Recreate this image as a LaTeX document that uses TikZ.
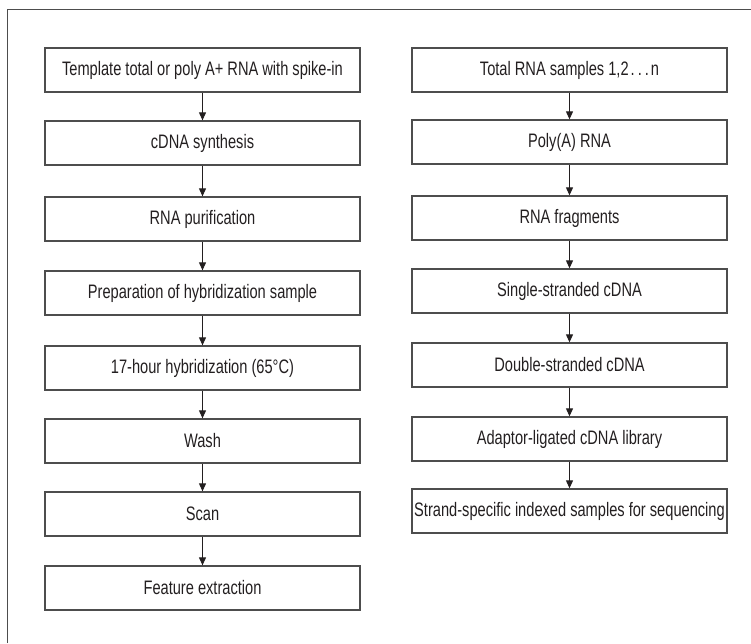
\documentclass[tikz,border=0pt]{standalone}
\usepackage{fontspec}
\setmainfont{Liberation Sans}[FakeStretch=0.75]
\usetikzlibrary{arrows.meta}
\definecolor{linegray}{HTML}{4D4D4D}
\definecolor{textgray}{HTML}{231F20}
\tikzset{
  flowbox/.style={draw=linegray, line width=1.3pt, minimum width=315pt, minimum height=44pt,
    inner sep=0pt, text=textgray, font=\fontsize{19.5}{21}\selectfont},
  flowarrow/.style={textgray, line width=1pt, -{Triangle[length=8pt,width=7pt]}}
}
\begin{document}
\begin{tikzpicture}[x=1pt,y=-1pt]
    \useasboundingbox (0,0) rectangle (751,643);
    \draw[linegray, line width=1pt] (7,643) -- (7,9) -- (751,9);

% microarray column
\node[flowbox] (template) at (202.5,70) {Template total or poly A+ RNA with spike-in};
\node[flowbox] (cdna) at (202.5,143) {cDNA synthesis};
\node[flowbox] (purif) at (202.5,219) {RNA purification};
\node[flowbox] (prep) at (202.5,293) {Preparation of hybridization sample};
\node[flowbox] (hybrid) at (202.5,368) {17-hour hybridization (65°C)};
\node[flowbox] (wash) at (202.5,441) {Wash};
\node[flowbox] (scan) at (202.5,514) {Scan};
\node[flowbox] (feature) at (202.5,588) {Feature extraction};

\draw[flowarrow] (template) -- (cdna);
\draw[flowarrow] (cdna) -- (purif);
\draw[flowarrow] (purif) -- (prep);
\draw[flowarrow] (prep) -- (hybrid);
\draw[flowarrow] (hybrid) -- (wash);
\draw[flowarrow] (wash) -- (scan);
\draw[flowarrow] (scan) -- (feature);

% sequencing column
\node[flowbox] (total) at (569.5,70) {Total RNA samples 1,2\kern2pt.\kern3pt.\kern3pt.\kern2pt n};
\node[flowbox] (polya) at (569.5,142) {Poly(A) RNA};
\node[flowbox] (frag) at (569.5,218) {RNA fragments};
\node[flowbox] (single) at (569.5,291) {Single-stranded cDNA};
\node[flowbox] (double) at (569.5,365) {Double-stranded cDNA};
\node[flowbox] (adaptor) at (569.5,439) {Adaptor-ligated cDNA library};
\node[flowbox] (strand) at (569.5,511) {Strand-specific indexed samples for sequencing};

\draw[flowarrow] (total) -- (polya);
\draw[flowarrow] (polya) -- (frag);
\draw[flowarrow] (frag) -- (single);
\draw[flowarrow] (single) -- (double);
\draw[flowarrow] (double) -- (adaptor);
\draw[flowarrow] (adaptor) -- (strand);

\end{tikzpicture}
\end{document}
